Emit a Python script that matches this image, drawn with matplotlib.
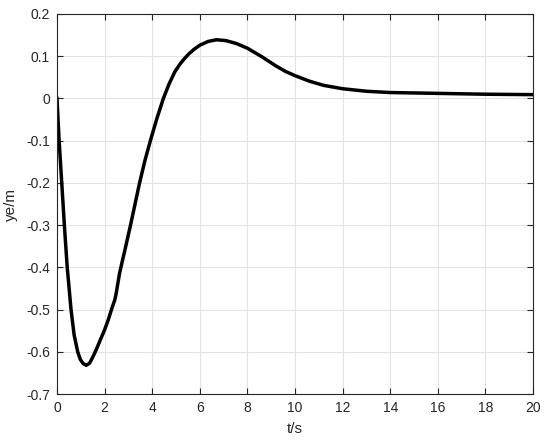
import matplotlib
matplotlib.use('Agg')
import matplotlib.pyplot as plt

# values
t = [0, 0.09, 0.2, 0.31, 0.43, 0.59, 0.72, 0.87, 0.98, 1.1, 1.23, 1.37, 1.5, 1.65,
     1.82, 2.0, 2.15, 2.29, 2.43, 2.49, 2.56, 2.63, 2.75, 2.85, 3.09, 3.28, 3.47,
     3.7, 3.94, 4.2, 4.47, 4.7, 4.95, 5.15, 5.35, 5.55, 5.75, 6.0, 6.35, 6.7, 7.1,
     7.54, 8.0, 8.6, 9.2, 9.6, 10.0, 10.6, 11.2, 12, 13, 14, 15, 16, 17, 18, 19, 20]
ye = [0, -0.1, -0.2, -0.3, -0.4, -0.5, -0.56, -0.6, -0.618, -0.628, -0.632, -0.627,
      -0.613, -0.595, -0.572, -0.548, -0.525, -0.5, -0.477, -0.461, -0.437, -0.414,
      -0.384, -0.36, -0.3, -0.25, -0.2, -0.146, -0.097, -0.047, 0.0, 0.033, 0.063,
      0.08, 0.094, 0.106, 0.116, 0.126, 0.135, 0.139, 0.137, 0.13, 0.119, 0.099,
      0.077, 0.064, 0.054, 0.041, 0.031, 0.023, 0.017, 0.014, 0.013, 0.012, 0.011,
      0.010, 0.0095, 0.009]

xticks = [0, 2, 4, 6, 8, 10, 12, 14, 16, 18, 20]
yticks = [0.2, 0.1, 0, -0.1, -0.2, -0.3, -0.4, -0.5, -0.6, -0.7]
ytick_labels = ['0.2', '0.1', '0', '-0.1', '-0.2', '-0.3', '-0.4', '-0.5', '-0.6', '-0.7']

plt.rcParams['font.family'] = ['Liberation Sans', 'DejaVu Sans']
plt.rcParams['axes.unicode_minus'] = False

fig = plt.figure(figsize=(5.5, 4.43), dpi=100)
ax = fig.add_axes([0.1036, 0.1106, 0.8655, 0.8578])

ax.plot(t, ye, color='black', linewidth=2.5, solid_joinstyle='round')

ax.set_xlim(0, 20)
ax.set_ylim(-0.7, 0.2)
ax.set_xticks(xticks)
ax.set_xticklabels([str(v) for v in xticks])
ax.set_yticks(yticks)
ax.set_yticklabels(ytick_labels)
ax.grid(True, color='#e3e3e3', linewidth=0.8)
ax.set_axisbelow(True)
ax.tick_params(direction='in', length=4, width=0.8, color='#262626',
               top=True, right=True, labelsize=10, labelcolor='#262626', pad=5)
for s in ax.spines.values():
    s.set_color('#262626')
    s.set_linewidth(0.8)

ax.set_xlabel('t/s', fontsize=11, color='#262626', labelpad=5)
ax.set_ylabel('ye/m', fontsize=11, color='#262626', labelpad=6)

fig.savefig('out.png', dpi=100)
